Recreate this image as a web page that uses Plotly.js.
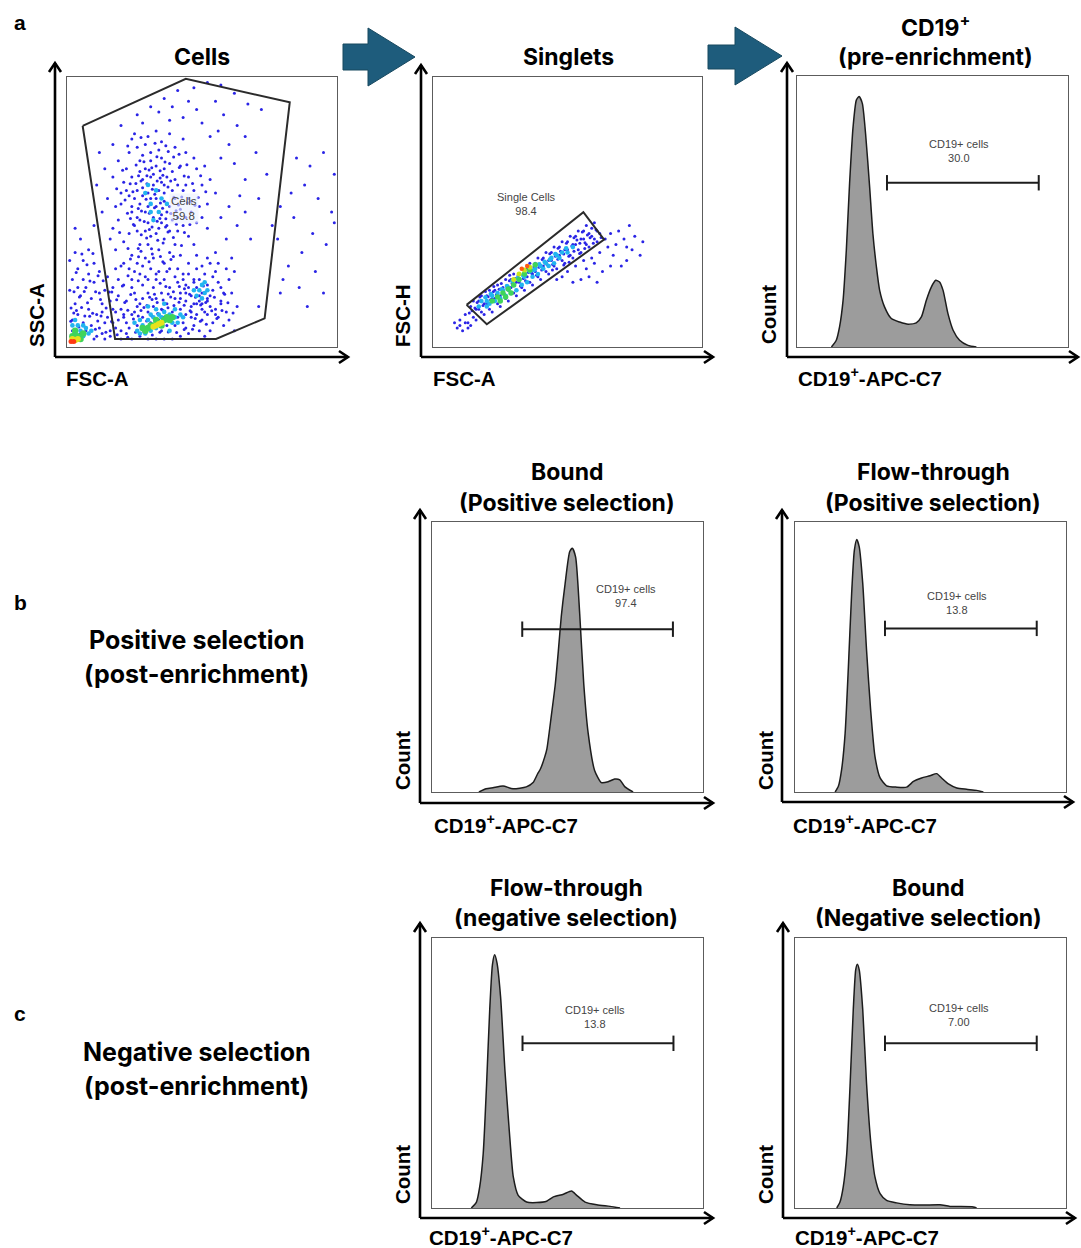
<!DOCTYPE html>
<html><head><meta charset="utf-8">
<script src="https://cdn.plot.ly/plotly-3.0.1.min.js"></script>
<style>html,body{margin:0;padding:0;background:#fff}</style>
</head><body><div id="chart" style="width:1081px;height:1248px"></div>
<script>
// ================= DATA =================
// Cells (FSC-A vs SSC-A), scaled 0-100
const cellsGateX = [5.8, 44.0, 82.5, 73.2, 55.2, 17.8, 5.8];
const cellsGateY = [81.9, 99.3, 90.6, 10.6, 3.0, 3.0, 81.9];
const cellsGateName = "Cells", cellsGatePct = "59.8";
const cellsBlue = [
[33,52],[31,55],[35,49],[29,50],[36,57],[27,53],[32,60],[38,52],[30,46],[34,44],[26,58],[28,62],[37,63],[40,55],[24,50],[25,45],[31,41],[36,40],[39,47],[42,51],[29,66],[33,67],[35,70],[27,69],[23,56],[21,61],[30,38],[34,36],[38,35],[41,43],[44,48],[43,58],[46,54],[40,62],[45,63],[38,68],[31,72],[26,74],[22,66],[20,53],[19,47],[23,42],[27,38],[32,33],[36,31],[28,30],[24,34],[40,38],[45,41],[48,46],[47,58],[50,60],[42,67],[48,66],[35,76],[30,78],[25,79],[40,74],[44,72],[52,53],[30,57],[32,48],[28,56],[36,54],[34,58],[26,48],[31,63],[37,45],[33,42],[29,43],[39,58],[35,61],[32,64],[24,63],[27,65],[41,48],[43,45],[37,50],[30,52],[25,55],[22,58],[20,57],[18,52],[17,44],[21,39],[26,43],[46,50],[49,52],[44,60],[39,65],[34,73],[29,75],[33,80],[38,79],[43,77],[47,70],[51,67],[53,62],[55,57],[50,48],[52,44],[47,38],[42,34],[37,28],[33,27],[29,26],[25,28],[21,31],[18,36],[16,40],[15,55],[17,63],[19,69],[23,72],[28,71],[36,66],[31,69],[35,46],[27,47],[24,52],[38,43],[41,60],[45,55],[33,55],[28,59],[36,60],
[30.5,49.5],[32.4,51.6],[34.6,53.3],[29.3,54.7],[31.6,58.4],[33.4,61.5],[35.5,63.6],[37.4,59.3],[39.6,55.5],[41.3,52.6],[38.5,49.4],[36.6,47.5],[34.4,47.6],[31.5,44.4],[28.6,46.5],[26.4,51.3],[25.5,60.6],[27.4,61.5],[29.6,63.4],[30.4,65.6],[34.5,65.3],[36.3,68.5],[39.5,70.4],[41.6,66.5],[43.4,63.3],[42.5,55.6],[40.4,50.5],[43.5,42.4],[39.4,40.6],[35.6,38.5],[31.3,36.4],[27.5,41.6],[24.6,45.4],[22.4,49.5],[21.5,54.4],[23.4,60.5],[25.6,67.4],[28.5,68.6],[33.3,70.5],[37.5,72.4],[32.6,75.5],[27.4,77.6],[22.5,74.4],[20.6,65.5],[18.4,58.6],[19.5,42.4],[22.6,36.5],[26.5,33.4],[30.4,31.6],[34.6,33.5],[38.5,32.4],[42.4,37.6],[45.5,45.4],[47.4,52.5],[44.6,53.4],[46.5,60.6],[44.4,67.5],[49.5,63.4],[51.4,57.5],[48.6,55.4],[26.4,36.5],[29.5,40.4],[33.6,39.5],[37.4,42.6],[40.5,45.5],[35.4,51.4],[32.5,56.6],[29.6,60.5],[26.5,63.4],[24.4,57.5],[27.6,50.4],[30.5,43.5],[33.4,46.6],[36.5,44.4],[38.4,61.5],[34.5,62.6],[31.4,66.4],[36.6,74.5],[41.5,71.4],[23.5,47.6],
[20,82],[26,86],[31,89],[36,92],[41,95],[47,96],[52,98],[57,97],[62,94],[67,90],[72,88],[55,91],[48,88],[43,85],[38,84],[34,87],[28,83],[50,83],[58,86],[63,82],[53,78],[60,75],[57,70],[62,68],[66,78],[70,72],[45,91],[39,89],[24,77],[17,75],[12,72],[14,66],[11,60],[13,50],[10,45],[66,62],[64,56],[60,52],[57,48],[63,45],[68,40],[59,40],[55,35],[61,33],[66,50],[71,55],[74,64],[76,45],[79,52],[56,80],
[85,70],[90,67],[95,72],[99,64],[88,60],[93,55],[98,50],[84,48],[91,42],[96,38],[87,35],[82,30],[92,28],[86,22],[80,25],[95,20],[89,15],[78,40],[99,46],[83,57],[71,15],[79,20],
[2,10],[4,12],[6,9],[8,14],[3,16],[5,19],[7,22],[9,18],[11,12],[13,16],[10,24],[12,28],[14,21],[2,25],[4,29],[6,32],[8,27],[15,11],[16,17],[3,35],[5,40],[1,21],[9,8],[12,7],[14,9],[16,6],[7,6],[11,4],[13,13],[10,31],[2,6],[5,5],[15,26],[17,14],[6,25],[8,36],[3,44],[1,32],[12,20],[4,22],
[3.5,13.5],[5.4,14.6],[7.6,16.4],[9.5,12.5],[11.4,9.6],[1.5,14.4],[4.6,18.5],[6.4,20.6],[8.5,24.4],[10.6,20.5],[12.4,17.6],[14.5,14.4],[2.6,20.5],[3.4,27.6],[5.5,34.4],[7.4,30.5],[9.6,34.6],[11.5,26.4],[13.4,24.5],[15.6,20.4],[1.4,9.5],[2.5,12.6],[4.4,7.4],[6.6,11.5],[8.4,11.4],[10.5,6.6],[12.6,11.5],[14.4,5.5],[16.5,9.4],[18.6,4.5],
[10,3],[13,5],[16,4],[18,7],[20,3],[22,5],[19,10],[21,12],[17,9],[14,3],
[20,6],[22,9],[24,12],[26,15],[28,18],[30,20],[32,22],[25,20],[22,17],[20,14],[19,19],[21,23],[24,25],[27,27],[30,25],[33,18],[35,20],[38,22],[40,18],[42,20],[44,17],[46,15],[48,12],[50,10],[47,8],[45,5],[42,4],[39,3],[36,3],[33,3],[30,3],[27,4],[24,3],[26,8],[28,11],[30,13],[32,15],[35,14],[37,16],[39,13],[41,11],[43,9],[44,12],[46,11],[48,16],[50,14],[52,12],[54,9],[56,11],[58,8],[60,10],[53,6],[51,4],[55,14],[57,17],[49,19],[45,22],[43,25],[36,25],[34,28],[31,29],[23,29],[26,31],[29,33],[19,25],[18,29],[40,26],[38,29],[36,11],[34,10],[23,7],[21,11],[25,13],[29,7],[31,9],[44,7],[49,6],[62,6],[59,13],[63,15],[52,17],[47,24],[41,29],[28,23],[24,22],[18,13],[17,22],[20,30],[33,25],[37,8],[42,14],[27,16],[35,6],[40,8],
[22.5,3.6],[25.4,5.5],[27.6,7.4],[29.5,9.6],[31.4,11.5],[33.6,12.4],[35.5,13.6],[37.4,14.5],[39.6,15.4],[41.5,16.6],[43.4,15.5],[45.6,13.4],[47.5,10.6],[49.4,9.5],[51.6,8.4],[46.5,6.6],[43.4,6.5],[40.6,5.4],[37.5,5.6],[34.4,5.5],[31.6,4.4],[28.5,5.6],[26.4,11.5],[24.6,10.4],[22.5,13.6],[21.4,16.5],[23.6,19.4],[25.5,17.6],[27.4,13.5],[29.6,15.4],[31.5,17.6],[33.4,16.5],[35.6,17.4],[37.5,19.6],[39.4,20.5],[41.6,22.4],[43.5,21.6],[45.4,19.5],[47.6,18.4],[49.5,15.6],[51.4,16.5],[53.6,13.4],[55.5,10.6],[57.4,13.5],[59.6,16.4],[61.5,12.6],[58.4,19.5],[54.6,18.4],[50.5,22.6],[38.4,18.5],[36.6,22.4],[34.5,23.6],[32.4,19.5],[30.6,18.4],[28.5,14.6],[26.4,24.5],[22.6,26.4],[20.5,22.6],[18.4,17.5],[16.6,20.4],[23.5,32.6],[27.4,35.5],[31.6,34.4],[35.5,31.6],[39.4,33.5],
[50,20],[48,22],[52,18],[46,19],[54,21],[49,25],[51,27],[47,16],[53,15],[56,24],[44,23],[45,27],[55,28],[58,20],[57,16],[50,30],[48,29],[53,31],[42,18],[60,25],[59,29],[46,13],[51,13],[55,12],[49,17],[52,23],[47,25],[54,26],[44,20],[57,22],[43,27],[61,20],[45,31],[52,33],[48,34],[56,31],[62,28],[41,24],[50,16],[53,19]
];
const cellsCyan = [[31,53],[34,50],[29,57],[35,55],[32,47],[30,60],[37,53],[33,58],[31,50],
[3,5],[5,6],[4,8],[6,4],[7,7],[2,8],[8,5],[9,6],[3,10],[6,8],
[28,8],[30,10],[32,11],[34,12],[36,13],[38,12],[40,11],[29,5],[31,6],[33,7],[35,9],[37,10],[39,9],[41,9],[26,6],[27,10],[30,15],[33,14],[36,16],[42,12],[25,9],[38,6],[43,11],[31,12],[35,11],[27,5],[40,14],
[49,21],[51,20],[50,23],[48,19],[52,21],[50,18],[47,21],[51,24]];
const cellsGreen = [[2,4],[4,4],[5,3],[3,6],[6,5],[30,7],[32,8],[34,9],[36,10],[38,10],[33,10],[35,8],[31,8],[37,11],[29,6],[39,11],[28,7]];
const cellsYellow = [[2,3],[3,2.5],[4,3],[33,8],[34,8.5],[35,9],[32,7.5]];
const cellsRed = [[1.5,2],[2.5,2]];

// Singlets (FSC-A vs FSC-H), scaled 0-100
const singGateX = [12.5, 55.9, 63.6, 20.0, 12.5];
const singGateY = [15.6, 49.9, 39.8, 8.4, 15.6];
const singGateName = "Single Cells", singGatePct = "98.4";
const singBlue = [
[12,12],[14,15],[15,11],[16,14],[17,17],[18,13],[19,16],[20,19],[21,14],[22,18],[23,21],[24,16],[25,19],[26,22],[27,18],[28,21],[29,25],[30,20],[31,24],[32,27],[33,22],[34,26],[35,29],[36,24],[37,27],[38,31],[39,26],[40,30],[41,33],[42,28],[43,32],[44,35],[45,30],[46,34],[47,37],[48,32],[49,36],[50,39],[51,34],[52,38],[53,41],[54,36],[55,40],[56,43],[57,38],[58,42],[59,44],[60,40],[61,43],[57,45],[54,43],[51,41],[48,39],[45,37],[42,35],[39,33],[36,31],[33,29],[30,27],[27,25],[24,23],[21,21],[18,19],[15,17],[13,9],[16,10],[19,12],[22,13],[25,15],[28,17],[31,19],[34,21],[37,23],[40,25],[43,27],[46,29],[49,31],[52,33],[55,35],[58,37],[61,39],[44,32],[47,34],[50,36],[53,38],[56,40],[41,30],[38,28],[35,26],[32,24],[29,22],[26,20],[23,18],[20,16],[17,14],[59,41],[62,42],[60,46],
[14.5,13.4],[16.4,16.5],[18.6,15.4],[20.5,18.6],[22.4,20.5],[24.6,21.4],[26.5,19.6],[28.4,24.5],[30.6,25.4],[32.5,22.6],[34.4,24.5],[36.6,27.4],[38.5,26.6],[40.4,28.5],[42.6,30.4],[44.5,30.6],[46.4,32.5],[48.6,34.4],[50.5,33.6],[52.4,35.5],[54.6,38.4],[56.5,38.6],[58.4,40.5],[60.6,43.4],[55.5,42.6],[52.4,40.5],[49.6,38.4],[46.5,36.6],[43.4,34.5],[40.6,32.4],[37.5,29.6],[34.4,28.5],[31.6,26.4],[28.5,26.6],[25.4,23.5],[22.6,22.4],[19.5,20.6],[17.4,18.5],[15.6,14.4],[13.5,12.6],[21.4,17.5],[23.6,19.4],[27.5,21.6],[29.4,23.5],[33.6,25.4],[35.5,27.6],[39.4,29.5],[41.6,31.4],[45.5,33.6],[47.4,35.5],[51.6,37.4],[53.5,39.6],[57.4,41.5],[59.6,38.4],[62.5,40.6],[44.4,28.5],[50.6,31.4],[54.5,34.6],[56.4,36.5],[48.6,30.4],
[50,28],[53,30],[56,32],[59,33],[62,35],[65,37],[68,38],[71,40],[74,36],[77,34],[72,32],[66,30],[63,28],[58,26],[55,25],[61,24],[67,34],[70,30],[75,41],[78,39],[64,40],[69,43],[73,45],[48,26],[52,24],[57,29],[60,31],[66,42],[46,25],[72,37],
[9,7],[10,8],[11,6],[12,9],[8,9],[13,7],[10,10],[14,8]
];
const singCyan = [[18,17],[20,17],[22,19],[24,20],[26,21],[28,22],[30,23],[32,25],[34,26],[36,28],[38,29],[40,30],[42,31],[44,33],[46,34],[48,35],[23,17],[27,19],[31,21],[35,24],[39,27],[43,30],[47,33],[20,15],[25,18],[29,20],[33,23],[37,26],[41,29],[45,31],[50,35],[52,37],[17,15],[21,16],
[19.5,18.4],[21.5,19.6],[25.5,21.4],[29.5,24.4],[33.5,26.6],[37.5,28.4],[41.5,31.6],[45.5,34.4],[49.5,36.6],[27.5,22.6],[31.5,25.4],[39.5,30.6],[43.5,32.4]];
const singGreen = [[22,17],[24,18.5],[26,20],[28,21.5],[30,23],[32,25],[34,27],[36,28.5],[38,30.5],[25,17],[27,18.5],[29,20]];
const singYellow = [[30,25],[32,27],[34,28.5],[36,29.5]];
const singRed = [[33,29],[35,30]];

// CD19+-APC-C7 histograms (x and count, normalised 0-1)
const preX = [0.127,0.145,0.157,0.170,0.182,0.194,0.207,0.219,0.229,0.241,0.253,0.268,0.280,0.293,0.305,0.323,0.348,0.379,0.410,0.440,0.459,0.477,0.496,0.512,0.526,0.539,0.557,0.576,0.600,0.631,0.662];
const preY = [0,0.025,0.074,0.172,0.357,0.603,0.813,0.911,0.924,0.899,0.788,0.591,0.419,0.296,0.209,0.148,0.105,0.092,0.084,0.089,0.111,0.172,0.222,0.246,0.240,0.209,0.123,0.062,0.025,0.006,0];
const boundPosX = [0.173,0.200,0.225,0.262,0.299,0.348,0.373,0.391,0.400,0.416,0.424,0.440,0.455,0.466,0.477,0.491,0.508,0.518,0.530,0.545,0.560,0.576,0.600,0.625,0.650,0.674,0.693,0.711,0.742];
const boundPosY = [0,0.012,0.016,0.022,0.012,0.019,0.035,0.070,0.085,0.13,0.16,0.28,0.40,0.52,0.65,0.77,0.89,0.903,0.87,0.66,0.40,0.22,0.08,0.035,0.038,0.048,0.045,0.02,0];
const ftPosX = [0.148,0.160,0.172,0.185,0.197,0.209,0.219,0.228,0.237,0.250,0.264,0.279,0.295,0.314,0.338,0.375,0.412,0.437,0.467,0.498,0.523,0.541,0.566,0.597,0.633,0.670,0.695];
const ftPosY = [0,0.021,0.083,0.218,0.464,0.735,0.895,0.935,0.908,0.772,0.526,0.305,0.132,0.052,0.023,0.018,0.018,0.039,0.052,0.060,0.068,0.052,0.030,0.015,0.010,0.006,0];
const ftNegX = [0.145,0.164,0.176,0.189,0.201,0.213,0.223,0.231,0.240,0.253,0.269,0.285,0.300,0.318,0.349,0.386,0.423,0.448,0.485,0.515,0.534,0.565,0.608,0.657,0.694];
const ftNegY = [0,0.022,0.078,0.202,0.449,0.734,0.901,0.938,0.907,0.783,0.511,0.288,0.115,0.047,0.022,0.020,0.025,0.041,0.051,0.063,0.047,0.022,0.012,0.006,0];
const boundNegX = [0.154,0.166,0.178,0.191,0.203,0.215,0.224,0.230,0.237,0.250,0.264,0.280,0.295,0.314,0.338,0.375,0.424,0.474,0.535,0.572,0.658,0.670];
const boundNegY = [0,0.022,0.078,0.202,0.449,0.734,0.882,0.903,0.882,0.734,0.462,0.239,0.115,0.053,0.028,0.019,0.012,0.011,0.012,0.006,0.004,0];

// CD19+ gates: start, end, level, percentage, label position
const gateLo = [0.332, 0.333, 0.332, 0.334, 0.332];
const gateHi = [0.892, 0.889, 0.892, 0.891, 0.892];
const gateLevel = [0.606, 0.603, 0.606, 0.610, 0.610];
const gatePct = ["30.0", "97.4", "13.8", "13.8", "7.00"];
const gateLabelX = [0.596, 0.715, 0.597, 0.602, 0.606];
const gateLabelY = [0.780, 0.782, 0.757, 0.762, 0.770];
const gateName = "CD19+ cells";

const histTitles = [["CD19<sup>+</sup>", "(pre-enrichment)"], ["Bound", "(Positive selection)"], ["Flow-through", "(Positive selection)"], ["Flow-through", "(negative selection)"], ["Bound", "(Negative selection)"]];
const rowLabels = [["Positive selection", "(post-enrichment)"], ["Negative selection", "(post-enrichment)"]];
const panelLetters = ["a", "b", "c"];

// ================= LAYOUT HELPERS =================
const W = 1081, H = 1248;
const fx = p => p / W, fy = p => 1 - p / H;
const TITLE_FONT = "Inter, 'Open Sans', sans-serif";
const LABEL_FONT = "'Liberation Sans', Arial, sans-serif";

// plot boxes in pixels [left, right, top, bottom]
const boxes = [[67,337,77,347],[433,702,77,347],[797,1068,76,347],[432,703,522,792],[795,1066,522,792],[432,703,938,1208],[795,1066,938,1208]];
// axis arrows [x of vertical, top, y of horizontal, right end]
const arrows = [[55,63,357,348],[421,65,357,713],[787,63,357,1078],[420,510,803,713],[782,510,802,1073],[420,923,1218,713],[783,923,1218,1075]];

const layout = {width: W, height: H, margin: {l:0,r:0,t:0,b:0}, paper_bgcolor: "#fff", plot_bgcolor: "#fff", showlegend: false, shapes: [], annotations: []};
boxes.forEach((b, i) => {
  const n = i === 0 ? "" : String(i + 1);
  const rng = i < 2 ? [0, 100] : [0, 1];
  const common = {showline: true, mirror: true, linecolor: "#5c5c5c", linewidth: 1, showgrid: false, zeroline: false, showticklabels: false, ticks: "", fixedrange: true};
  layout["xaxis" + n] = Object.assign({}, common, {domain: [fx(b[0]), fx(b[1])], range: rng, anchor: "y" + n});
  layout["yaxis" + n] = Object.assign({}, common, {domain: [fy(b[3]), fy(b[2])], range: rng, anchor: "x" + n});
});

// black axis arrows with open chevrons
const P = (x, y) => fx(x) + "," + fy(y);
arrows.forEach(a => {
  const [vx, top, hy, right] = a;
  const ln = {color: "#000", width: 2.6};
  layout.shapes.push({type: "path", xref: "paper", yref: "paper", path: "M" + P(vx, hy) + " L" + P(vx, top) + " M" + P(right, hy) + " L" + P(vx, hy), line: ln});
  layout.shapes.push({type: "path", xref: "paper", yref: "paper", path: "M" + P(vx - 6, top + 9) + " L" + P(vx, top) + " L" + P(vx + 6, top + 9), line: ln});
  layout.shapes.push({type: "path", xref: "paper", yref: "paper", path: "M" + P(right - 9, hy - 6) + " L" + P(right, hy) + " L" + P(right - 9, hy + 6), line: ln});
});
// block arrows between gating steps
[[343, 368, 44, 70, 28, 86, 415, 57], [708, 735, 45, 69, 27, 85, 782, 56]].forEach(b => {
  const [x0, xh, s0, s1, h0, h1, tip, ym] = b;
  layout.shapes.push({type: "path", xref: "paper", yref: "paper",
    path: "M" + P(x0, s0) + " L" + P(xh, s0) + " L" + P(xh, h0) + " L" + P(tip, ym) + " L" + P(xh, h1) + " L" + P(xh, s1) + " L" + P(x0, s1) + " Z",
    fillcolor: "#1e5c7c", line: {color: "#17485f", width: 1}});
});

function txt(text, x, y, size, opts) {
  layout.annotations.push(Object.assign({text: text, x: fx(x), y: fy(y), xref: "paper", yref: "paper", showarrow: false,
    xanchor: "center", yanchor: "middle", font: {family: TITLE_FONT, size: size, color: "#000", weight: 700}}, opts || {}));
}
// panel letters
const letFont = {family: LABEL_FONT, size: 21, color: "#000", weight: 700};
txt(panelLetters[0], 20, 22, 21, {font: letFont});
txt(panelLetters[1], 20, 603, 21, {font: letFont});
txt(panelLetters[2], 20, 1013, 21, {font: letFont});
// row labels
const RS = 25;
txt(rowLabels[0][0], 197, 640, RS); txt(rowLabels[0][1], 197, 674, RS);
txt(rowLabels[1][0], 197, 1052, RS); txt(rowLabels[1][1], 197, 1086, RS);
// titles
const TS = 23;
txt(cellsGateName, 202, 57, TS);
txt("Singlets", 568, 57, TS);
const titlePos = [[935, 26, 57], [567, 472, 503], [933, 472, 503], [566, 888, 918], [928, 888, 918]];
histTitles.forEach((t, i) => { txt(t[0], titlePos[i][0], titlePos[i][1], TS); txt(t[1], titlePos[i][0], titlePos[i][2], TS); });
// axis labels
const AS = 20.5;
const axFont = {family: LABEL_FONT, size: AS, color: "#000", weight: 700};
const lab = (t, x, y, rot) => txt(t, x, y, AS, rot ? {textangle: -90, font: axFont} : {xanchor: "left", font: axFont});
lab("SSC-A", 36, 315, true); lab("FSC-A", 64, 379);
lab("FSC-H", 402, 316, true); lab("FSC-A", 431, 379);
const cdLab = "CD19<sup>+</sup>-APC-C7";
[[768, 315, 796, 377], [402, 761, 432, 824], [765, 761, 791, 824], [402, 1175, 427, 1236], [765, 1175, 793, 1236]].forEach(p => {
  lab("Count", p[0], p[1], true); lab(cdLab, p[2], p[3]);
});

// ================= TRACES =================
const traces = [];
const px = a => a.map(p => p[0]), py = a => a.map(p => p[1]);
function dots(arr, xa, ya, color, size) {
  traces.push({type: "scatter", mode: "markers", x: px(arr), y: py(arr), xaxis: xa, yaxis: ya, hoverinfo: "skip",
    marker: {color: color, size: size, line: {width: 0}}});
}
dots(cellsBlue, "x", "y", "#2a24e6", 3);
dots(cellsCyan, "x", "y", "#22b4f0", 4.6);
dots(cellsGreen, "x", "y", "#3fd45a", 6.5);
dots(cellsYellow, "x", "y", "#e6e21c", 6);
dots(cellsRed, "x", "y", "#ff3a12", 5);
traces.push({type: "scatter", mode: "lines", x: cellsGateX, y: cellsGateY, xaxis: "x", yaxis: "y", line: {color: "#2b2b2b", width: 2}, hoverinfo: "skip"});
dots(singBlue, "x2", "y2", "#2a24e6", 3);
dots(singCyan, "x2", "y2", "#22b4f0", 4.6);
dots(singGreen, "x2", "y2", "#3fd45a", 5.5);
dots(singYellow, "x2", "y2", "#c8e61c", 5);
dots(singRed, "x2", "y2", "#ff5a12", 4.5);
traces.push({type: "scatter", mode: "lines", x: singGateX, y: singGateY, xaxis: "x2", yaxis: "y2", line: {color: "#2b2b2b", width: 2}, hoverinfo: "skip"});
layout.annotations.push({text: cellsGateName + "<br>" + cellsGatePct, x: 43.3, y: 51.2, xref: "x", yref: "y", showarrow: false, font: {family: LABEL_FONT, size: 11.5, color: "#444"}, bgcolor: "rgba(235,240,255,0.6)"});
layout.annotations.push({text: singGateName + "<br>" + singGatePct, x: 34.8, y: 53.1, xref: "x2", yref: "y2", showarrow: false, font: {family: LABEL_FONT, size: 11, color: "#444"}});

const hists = [[preX, preY], [boundPosX, boundPosY], [ftPosX, ftPosY], [ftNegX, ftNegY], [boundNegX, boundNegY]];
hists.forEach((h, i) => {
  const n = String(i + 3);
  traces.push({type: "scatter", mode: "lines", x: h[0], y: h[1], xaxis: "x" + n, yaxis: "y" + n, fill: "tozeroy", fillcolor: "#9c9c9c",
    line: {color: "#1c1c1c", width: 1.5, shape: "spline", smoothing: 0.6}, hoverinfo: "skip"});
  traces.push({type: "scatter", mode: "lines+markers", x: [gateLo[i], gateHi[i]], y: [gateLevel[i], gateLevel[i]], xaxis: "x" + n, yaxis: "y" + n,
    line: {color: "#1c1c1c", width: 2}, marker: {symbol: "line-ns-open", size: 11, line: {color: "#1c1c1c", width: 2}}, hoverinfo: "skip"});
  layout.annotations.push({text: gateName + "<br>" + gatePct[i], x: gateLabelX[i], y: gateLabelY[i], xref: "x" + n, yref: "y" + n, yanchor: "top",
    showarrow: false, font: {family: LABEL_FONT, size: 11, color: "#444"}});
});

Plotly.newPlot("chart", traces, layout, {staticPlot: true, displayModeBar: false});
</script></body></html>
